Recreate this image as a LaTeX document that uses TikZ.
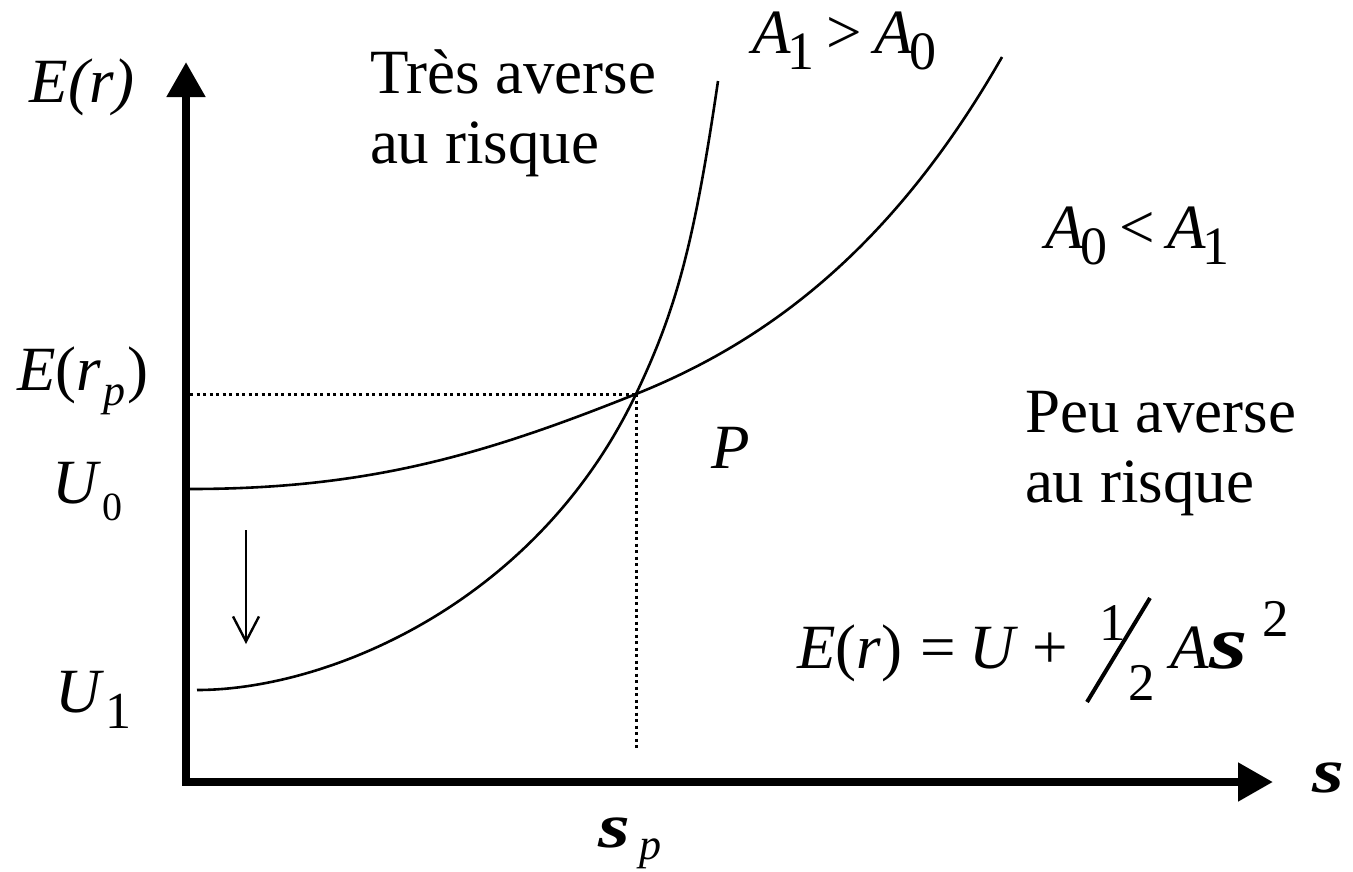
\documentclass[tikz,border=0pt]{standalone}
\usepackage{fontspec}
\setmainfont{Liberation Serif}
\usetikzlibrary{arrows.meta}
\newcommand\lowsub[3]{\raisebox{-#2pt}{\fontsize{#1}{#1}\selectfont\upshape #3}}
\newcommand\sigmaglyph{\scalebox{1.3}[1]{\bfseries\itshape s}}
\begin{document}
\begin{tikzpicture}[x=1pt,y=-1pt,
  lbl/.style={inner sep=0pt,outer sep=0pt,anchor=base west,font=\fontsize{63}{70}\selectfont},
  axis/.style={line width=8pt,line join=miter,{Triangle[length=35pt,width=37pt]}-{Triangle[length=35pt,width=37pt]}},
  curve/.style={line width=2.6pt},
  guide/.style={line width=3pt,dash pattern=on 3pt off 3.5pt},
  shift arrow/.style={line width=2.4pt,-{Straight Barb[length=25pt,width=26pt,line width=2.4pt]}}]
\useasboundingbox (0,0) rectangle (1353,871);
% axes
\coordinate (ytip) at (186,62);
\coordinate (orig) at (186,782);
\coordinate (xtip) at (1273,782);
\draw[axis] (ytip) -- (orig) -- (xtip);
% guides
\coordinate (P) at (636,394);
\coordinate (gy) at (190,394);
\coordinate (gx) at (636,748);
\draw[guide] (gy) -- (P);
\draw[guide] (P) -- (gx);
% curves
\coordinate (c0s) at (190,489);
\coordinate (c0e) at (1002,57);
\coordinate (c1s) at (197,690);
\coordinate (c1e) at (718,81);
\draw[curve] (c0s) .. controls (370,489) and (486,454) .. (P) .. controls (766,342) and (892,249.5) .. (c0e);
\draw[curve] (c1s) .. controls (327,690) and (536,604) .. (P) .. controls (676,310) and (694,245) .. (c1e);
% shift arrow
\coordinate (ds) at (246,530);
\coordinate (de) at (246,644);
\draw[shift arrow] (ds) -- (de);
% labels
\node[lbl] (Er) at (30,102) {\itshape E(r)};
\node[lbl] (tres1) at (370,93) {Très averse};
\node[lbl] (tres2) at (370,163) {au risque};
\node[lbl] (A10) at (752,53) {\itshape A\kern-3pt\lowsub{54}{16}{1}\kern12pt\upshape>\kern12pt\itshape A\kern-3pt\lowsub{54}{16}{0}};
\node[lbl] (A01) at (1045,248) {\itshape A\kern-3pt\lowsub{54}{16}{0}\kern12pt\upshape<\kern12pt\itshape A\kern-3pt\lowsub{54}{16}{1}};
\node[lbl] (Erp) at (17,390) {\textit{E}(\textit{r}\kern2pt\lowsub{44}{15}{\itshape p}\kern2pt)};
\node[lbl] (U0) at (52,503) {\textit{U}\kern2pt\lowsub{40}{17}{0}};
\node[lbl] (U1) at (55,712) {\textit{U}\kern2pt\lowsub{52}{16}{1}};
\node[lbl] (Plbl) at (711,468) {\itshape P};
\node[lbl] (peu1) at (1025,432) {Peu averse};
\node[lbl] (peu2) at (1025,502) {au risque};
\node[lbl] (sp) at (598,847) {\sigmaglyph\kern10pt\lowsub{44}{12}{\itshape p}};
\node[lbl] (sx) at (1312,792) {\sigmaglyph};
% formula
\node[lbl] (f1) at (797,668) {\textit{E}(\textit{r})\kern18pt=\kern14pt\textit{U}\kern14pt+};
\node[lbl,font=\fontsize{53}{53}\selectfont] (fone) at (1099,640) {1};
\coordinate (sl1) at (1087,702);
\coordinate (sl2) at (1150,598);
\draw[line width=4pt] (sl1) -- (sl2);
\node[lbl,font=\fontsize{53}{53}\selectfont] (ftwo) at (1128,700) {2};
\node[lbl] (fA) at (1170,668) {\itshape A\kern1pt{\fontsize{76}{76}\selectfont\sigmaglyph}};
\node[lbl,font=\fontsize{53}{53}\selectfont] (fsq) at (1262,636) {2};
\end{tikzpicture}
\end{document}
